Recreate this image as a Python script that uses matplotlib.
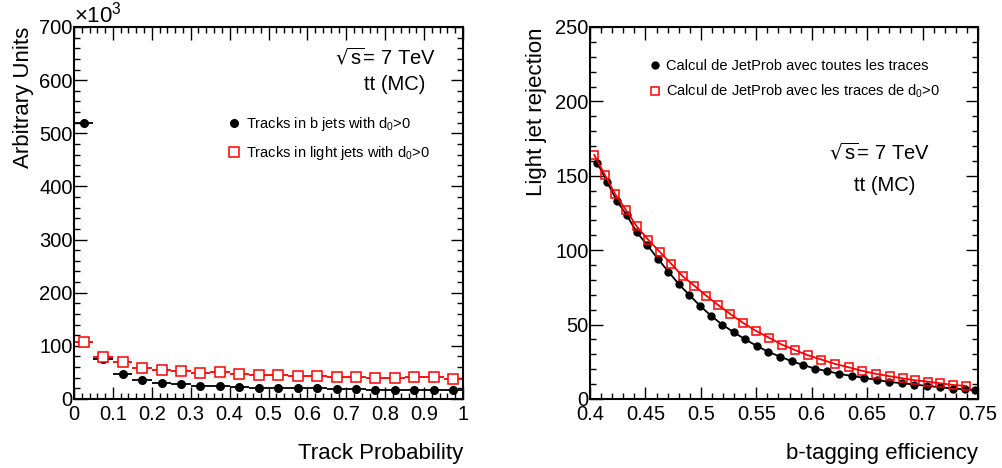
import numpy as np
import matplotlib
matplotlib.use("Agg")
import matplotlib.pyplot as plt
from matplotlib.lines import Line2D
from matplotlib.ticker import MultipleLocator

plt.rcParams["font.family"] = ["Liberation Sans", "DejaVu Sans"]
plt.rcParams["mathtext.default"] = "regular"

# --- Left panel: track probability distributions (units of 10^3) ---
track_prob = np.arange(0.025, 1.0, 0.05)
b_jets = [520, 74.7, 47.5, 36, 30.4, 27.8, 24, 25.3, 22.8, 21.5,
          21.5, 20.3, 20.3, 19, 18.4, 17.7, 17.7, 17.7, 17.7, 17]
light_jets = [107.6, 79.7, 69, 58.9, 54.4, 51.9, 48, 50, 46.2, 45,
              45, 43, 43, 41.8, 40.5, 38.6, 39.2, 40.5, 40.5, 38]

# --- Right panel: light jet rejection vs b-tagging efficiency ---
eff_all = [0.4066, 0.4156, 0.4246, 0.4331, 0.4424, 0.4517, 0.4610, 0.4707,
           0.4800, 0.4893, 0.4992, 0.5091, 0.5194, 0.5296, 0.5401, 0.5504,
           0.5609, 0.5714, 0.5819, 0.5921, 0.6030, 0.6141, 0.6249, 0.6361,
           0.6474, 0.6586, 0.6697, 0.6812, 0.6925, 0.7043, 0.7157, 0.7272,
           0.7383, 0.7473]
rej_all = [158.8, 145.6, 132.8, 123.6, 111.9, 103.4, 94.4, 85.6,
           77.3, 70.1, 62.7, 56.0, 49.9, 44.9, 40.0, 35.7,
           31.7, 28.5, 25.4, 22.9, 20.4, 18.7, 16.9, 15.5,
           14.2, 12.8, 11.5, 10.6, 9.7, 8.8, 7.9, 7.0,
           6.5, 6.1]
eff_d0 = [0.4039, 0.4135, 0.4226, 0.4325, 0.4421, 0.4526, 0.4629, 0.4731,
          0.4836, 0.4941, 0.5049, 0.5157, 0.5266, 0.5380, 0.5497, 0.5612,
          0.5729, 0.5852, 0.5966, 0.6087, 0.6210, 0.6334, 0.6456, 0.6580,
          0.6703, 0.6823, 0.6932, 0.7046, 0.7157, 0.7278, 0.7392]
rej_d0 = [164.0, 150.5, 137.8, 127.0, 116.0, 107.0, 98.9, 91.0,
          82.5, 76.2, 69.4, 63.1, 57.1, 51.2, 45.8, 41.3,
          36.6, 32.8, 29.4, 26.5, 23.6, 21.3, 18.9, 16.9,
          15.3, 13.9, 12.6, 11.7, 10.6, 9.4, 8.8]

W, H = 1003, 468
fig = plt.figure(figsize=(W / 100, H / 100), dpi=100)
ax1 = fig.add_axes([74 / W, 69 / H, 389 / W, 372 / H])
ax2 = fig.add_axes([590 / W, 69 / H, 388 / W, 372 / H])


def root_style(ax):
    for s in ax.spines.values():
        s.set_linewidth(1.5)
    ax.tick_params(which="both", direction="in", top=True, right=True,
                   width=1.0, labelsize=14.5)
    ax.tick_params(which="major", length=9)
    ax.tick_params(which="minor", length=4.5)
    ax.tick_params(axis="y", pad=1)
    ax.tick_params(axis="x", pad=4)


def marker_handle(marker, ms, **kw):
    return Line2D([], [], ls="none", marker=marker, ms=ms, **kw)


# Left panel
ax1.errorbar(track_prob, b_jets, xerr=0.025, fmt="o", color="black",
             ms=5.5, elinewidth=1.3, capsize=0)
ax1.errorbar(track_prob, light_jets, xerr=0.025, fmt="s", color="red",
             mfc="white", mec="red", ms=6.5, mew=1.1, elinewidth=1.3, capsize=0)
ax1.set_xlim(0, 1)
ax1.set_ylim(0, 700)
ax1.xaxis.set_major_locator(MultipleLocator(0.1))
ax1.xaxis.set_minor_locator(MultipleLocator(0.02))
ax1.yaxis.set_major_locator(MultipleLocator(100))
ax1.yaxis.set_minor_locator(MultipleLocator(20))
ax1.xaxis.set_major_formatter(lambda v, p: f"{v:g}")
root_style(ax1)
ax1.set_xlabel("Track Probability", loc="right", fontsize=16, labelpad=14)
ax1.set_ylabel("Arbitrary Units", loc="top", fontsize=16, labelpad=4)
ax1.text(0.0, 1.0, r"$\times10^{3}$", transform=ax1.transAxes, fontsize=16,
         ha="left", va="bottom")
ax1.text(0.93, 0.90, r"$\sqrt{s}$= 7 TeV", transform=ax1.transAxes,
         fontsize=14.5, ha="right", va="baseline")
ax1.text(0.902, 0.83, "tt (MC)", transform=ax1.transAxes,
         fontsize=14.5, ha="right", va="baseline")
h1 = [marker_handle("o", 5.5, color="black"),
      marker_handle("s", 6.5, mfc="white", mec="red", mew=1.1)]
ax1.legend(h1, ["Tracks in b jets with d$_{0}$>0",
                "Tracks in light jets with d$_{0}$>0"],
           loc="upper left", bbox_to_anchor=(0.385, 0.78), frameon=False,
           fontsize=10.5, handlelength=0.6, handletextpad=0.5,
           labelspacing=0.8, borderaxespad=0)

# Right panel
ax2.plot(eff_all, rej_all, "-o", color="black", ms=5, lw=1.3)
ax2.plot(eff_d0, rej_d0, "-s", color="red", mfc="none", mec="red", ms=6,
         mew=1.1, lw=1.3)
ax2.set_xlim(0.4, 0.75)
ax2.set_ylim(0, 250)
ax2.xaxis.set_major_locator(MultipleLocator(0.05))
ax2.xaxis.set_minor_locator(MultipleLocator(0.01))
ax2.yaxis.set_major_locator(MultipleLocator(50))
ax2.yaxis.set_minor_locator(MultipleLocator(10))
ax2.xaxis.set_major_formatter(lambda v, p: f"{v:g}")
root_style(ax2)
ax2.set_xlabel("b-tagging efficiency", loc="right", fontsize=16, labelpad=14)
ax2.set_ylabel("Light jet rejection", loc="top", fontsize=16, labelpad=6)
ax2.text(0.877, 0.645, r"$\sqrt{s}$= 7 TeV", transform=ax2.transAxes,
         fontsize=14.5, ha="right", va="baseline")
ax2.text(0.838, 0.56, "tt (MC)", transform=ax2.transAxes,
         fontsize=14.5, ha="right", va="baseline")
h2 = [marker_handle("o", 5, color="black"),
      marker_handle("s", 6, mfc="white", mec="red", mew=1.1)]
ax2.legend(h2, ["Calcul de JetProb avec toutes les traces",
                "Calcul de JetProb avec les traces de d$_{0}$>0"],
           loc="upper left", bbox_to_anchor=(0.14, 0.93), frameon=False,
           fontsize=10.5, handlelength=0.6, handletextpad=0.5,
           labelspacing=0.7, borderaxespad=0)

fig.savefig("out.png", dpi=100)
